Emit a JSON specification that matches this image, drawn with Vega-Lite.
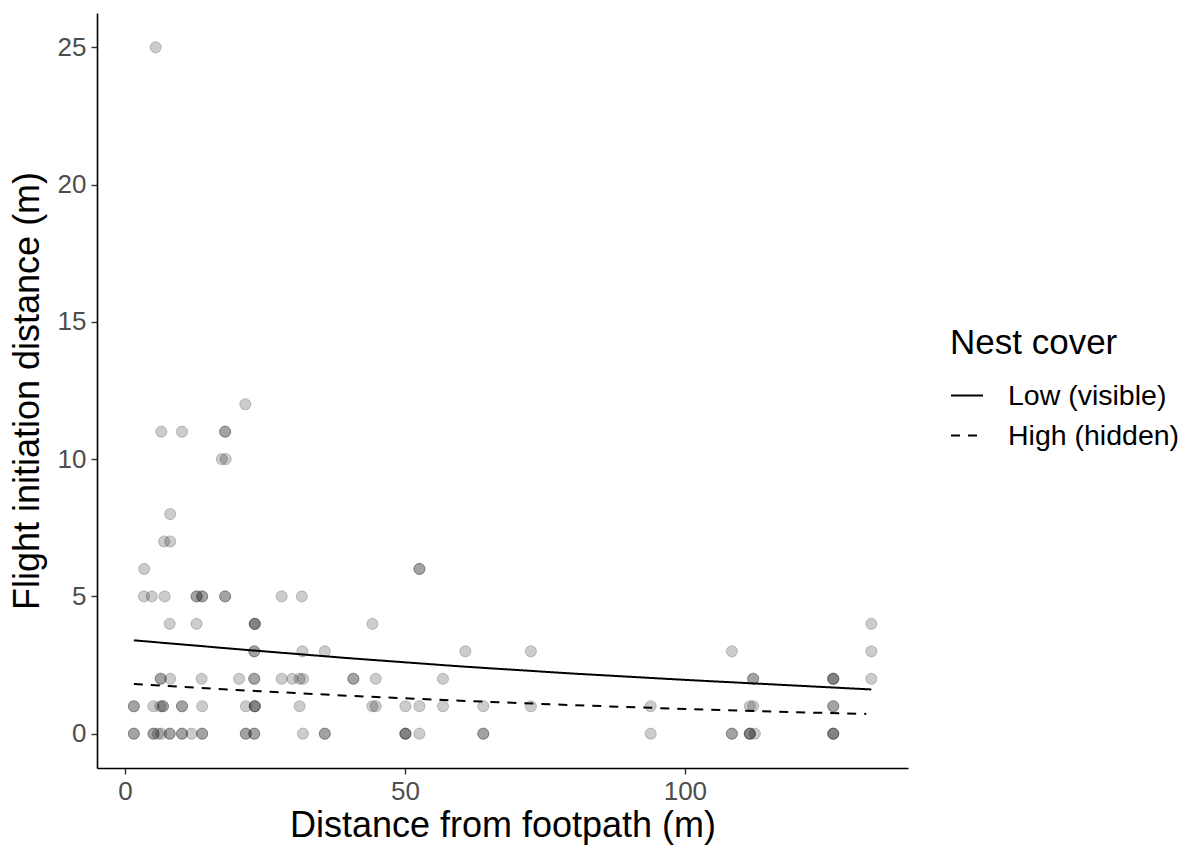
{
  "$schema": "https://vega.github.io/schema/vega-lite/v6.json",
  "width": 811,
  "height": 755,
  "autosize": {"type": "none"},
  "padding": {"left": 97, "top": 13, "right": 288, "bottom": 81},
  "background": "white",
  "config": {
    "font": "Liberation Sans",
    "view": {"stroke": null},
    "axis": {
      "grid": false,
      "domainColor": "black",
      "domainWidth": 1.6,
      "tickColor": "#333333",
      "tickWidth": 1.4,
      "tickSize": 6,
      "labelFont": "Liberation Sans",
      "labelFontSize": 26,
      "labelColor": "#4D4D4D",
      "titleFont": "Liberation Sans",
      "titleFontSize": 36,
      "titleFontWeight": "normal",
      "titleColor": "black"
    },
    "legend": {
      "titleFont": "Liberation Sans",
      "labelFont": "Liberation Sans"
    }
  },
  "datasets": {
    "points": [
      {"d": 5.5, "fid": 25},
      {"d": 21.5, "fid": 12},
      {"d": 6.5, "fid": 11}, {"d": 10.2, "fid": 11}, {"d": 17.9, "fid": 11}, {"d": 17.9, "fid": 11},
      {"d": 17.3, "fid": 10}, {"d": 18.0, "fid": 10},
      {"d": 8.1, "fid": 8},
      {"d": 7.0, "fid": 7}, {"d": 8.1, "fid": 7},
      {"d": 3.45, "fid": 6}, {"d": 52.6, "fid": 6}, {"d": 52.6, "fid": 6},
      {"d": 3.4, "fid": 5}, {"d": 4.8, "fid": 5}, {"d": 7.1, "fid": 5}, {"d": 12.8, "fid": 5}, {"d": 12.8, "fid": 5}, {"d": 13.8, "fid": 5}, {"d": 13.8, "fid": 5}, {"d": 17.9, "fid": 5}, {"d": 17.9, "fid": 5}, {"d": 28.0, "fid": 5}, {"d": 31.6, "fid": 5},
      {"d": 8.0, "fid": 4}, {"d": 12.8, "fid": 4}, {"d": 23.2, "fid": 4}, {"d": 23.2, "fid": 4}, {"d": 23.2, "fid": 4}, {"d": 44.2, "fid": 4}, {"d": 133.3, "fid": 4},
      {"d": 23.1, "fid": 3}, {"d": 23.1, "fid": 3}, {"d": 31.7, "fid": 3}, {"d": 35.7, "fid": 3}, {"d": 60.8, "fid": 3}, {"d": 72.5, "fid": 3}, {"d": 108.4, "fid": 3}, {"d": 133.3, "fid": 3},
      {"d": 6.4, "fid": 2}, {"d": 6.4, "fid": 2}, {"d": 8.1, "fid": 2}, {"d": 13.7, "fid": 2}, {"d": 20.4, "fid": 2}, {"d": 23.1, "fid": 2}, {"d": 23.1, "fid": 2}, {"d": 28.0, "fid": 2}, {"d": 29.9, "fid": 2}, {"d": 31.2, "fid": 2}, {"d": 31.8, "fid": 2}, {"d": 40.8, "fid": 2}, {"d": 40.8, "fid": 2}, {"d": 44.8, "fid": 2}, {"d": 56.8, "fid": 2}, {"d": 112.2, "fid": 2}, {"d": 112.2, "fid": 2}, {"d": 126.5, "fid": 2}, {"d": 126.5, "fid": 2}, {"d": 126.5, "fid": 2}, {"d": 133.3, "fid": 2},
      {"d": 1.6, "fid": 1}, {"d": 1.6, "fid": 1}, {"d": 5.1, "fid": 1}, {"d": 6.3, "fid": 1}, {"d": 6.8, "fid": 1}, {"d": 6.8, "fid": 1}, {"d": 10.2, "fid": 1}, {"d": 10.2, "fid": 1}, {"d": 13.8, "fid": 1}, {"d": 21.6, "fid": 1}, {"d": 23.2, "fid": 1}, {"d": 23.2, "fid": 1}, {"d": 23.2, "fid": 1}, {"d": 31.2, "fid": 1}, {"d": 44.2, "fid": 1}, {"d": 44.8, "fid": 1}, {"d": 50.1, "fid": 1}, {"d": 52.6, "fid": 1}, {"d": 56.8, "fid": 1}, {"d": 64.0, "fid": 1}, {"d": 72.5, "fid": 1}, {"d": 93.9, "fid": 1}, {"d": 111.6, "fid": 1}, {"d": 112.2, "fid": 1}, {"d": 126.5, "fid": 1}, {"d": 126.5, "fid": 1},
      {"d": 1.6, "fid": 0}, {"d": 1.6, "fid": 0}, {"d": 5.1, "fid": 0}, {"d": 5.1, "fid": 0}, {"d": 5.9, "fid": 0}, {"d": 6.5, "fid": 0}, {"d": 8.0, "fid": 0}, {"d": 8.0, "fid": 0}, {"d": 10.2, "fid": 0}, {"d": 10.2, "fid": 0}, {"d": 11.9, "fid": 0}, {"d": 13.8, "fid": 0}, {"d": 13.8, "fid": 0}, {"d": 21.6, "fid": 0}, {"d": 21.6, "fid": 0}, {"d": 23.1, "fid": 0}, {"d": 23.1, "fid": 0}, {"d": 31.8, "fid": 0}, {"d": 35.7, "fid": 0}, {"d": 35.7, "fid": 0}, {"d": 50.1, "fid": 0}, {"d": 50.1, "fid": 0}, {"d": 50.1, "fid": 0}, {"d": 52.6, "fid": 0}, {"d": 64.0, "fid": 0}, {"d": 64.0, "fid": 0}, {"d": 93.9, "fid": 0}, {"d": 108.4, "fid": 0}, {"d": 108.4, "fid": 0}, {"d": 111.6, "fid": 0}, {"d": 111.6, "fid": 0}, {"d": 111.6, "fid": 0}, {"d": 112.5, "fid": 0}, {"d": 126.5, "fid": 0}, {"d": 126.5, "fid": 0}, {"d": 126.5, "fid": 0}
    ],
    "curves": [
      {"cover": "Low (visible)", "d": 1.6, "fid": 3.40},
      {"cover": "Low (visible)", "d": 20, "fid": 3.08},
      {"cover": "Low (visible)", "d": 40, "fid": 2.75},
      {"cover": "Low (visible)", "d": 60, "fid": 2.45},
      {"cover": "Low (visible)", "d": 80, "fid": 2.19},
      {"cover": "Low (visible)", "d": 100, "fid": 1.96},
      {"cover": "Low (visible)", "d": 120, "fid": 1.75},
      {"cover": "Low (visible)", "d": 133.3, "fid": 1.61},
      {"cover": "High (hidden)", "d": 1.6, "fid": 1.81},
      {"cover": "High (hidden)", "d": 20, "fid": 1.59},
      {"cover": "High (hidden)", "d": 40, "fid": 1.38},
      {"cover": "High (hidden)", "d": 60, "fid": 1.20},
      {"cover": "High (hidden)", "d": 80, "fid": 1.04},
      {"cover": "High (hidden)", "d": 100, "fid": 0.90},
      {"cover": "High (hidden)", "d": 120, "fid": 0.78},
      {"cover": "High (hidden)", "d": 132.4, "fid": 0.72}
    ]
  },
  "layer": [
    {
      "data": {"name": "points"},
      "mark": {"type": "point", "shape": "circle", "filled": true, "size": 125, "fill": "black", "fillOpacity": 0.2, "stroke": "black", "strokeOpacity": 0.2, "strokeWidth": 1},
      "encoding": {
        "x": {
          "field": "d", "type": "quantitative",
          "scale": {"domain": [-4.98, 139.85], "nice": false, "zero": false},
          "axis": {"values": [0, 50, 100], "title": "Distance from footpath (m)", "labelPadding": 4, "titleY": 68.3, "titleBaseline": "alphabetic"}
        },
        "y": {
          "field": "fid", "type": "quantitative",
          "scale": {"domain": [-1.25, 26.25], "nice": false, "zero": false},
          "axis": {"values": [0, 5, 10, 15, 20, 25], "title": "Flight initiation distance (m)", "labelPadding": 5, "titleX": -58.7, "titleBaseline": "alphabetic"}
        }
      }
    },
    {
      "data": {"name": "curves"},
      "mark": {"type": "line", "color": "black", "strokeWidth": 2, "strokeCap": "butt"},
      "encoding": {
        "x": {"field": "d", "type": "quantitative"},
        "y": {"field": "fid", "type": "quantitative"},
        "strokeDash": {
          "field": "cover", "type": "nominal",
          "scale": {"domain": ["Low (visible)", "High (hidden)"], "range": [[1, 0], [9, 8]]},
          "legend": {
            "title": "Nest cover",
            "orient": "none",
            "legendX": 853,
            "legendY": 312.6,
            "padding": 0,
            "titleFontSize": 35,
            "titleFontWeight": "normal",
            "titleColor": "black",
            "titlePadding": 18,
            "titleLimit": 0,
            "labelFontSize": 28.5,
            "labelColor": "black",
            "labelOffset": 24,
            "labelLimit": 0,
            "symbolType": "stroke",
            "symbolSize": 1024,
            "symbolStrokeWidth": 2,
            "symbolStrokeColor": "black",
            "rowPadding": 8
          }
        }
      }
    }
  ]
}
